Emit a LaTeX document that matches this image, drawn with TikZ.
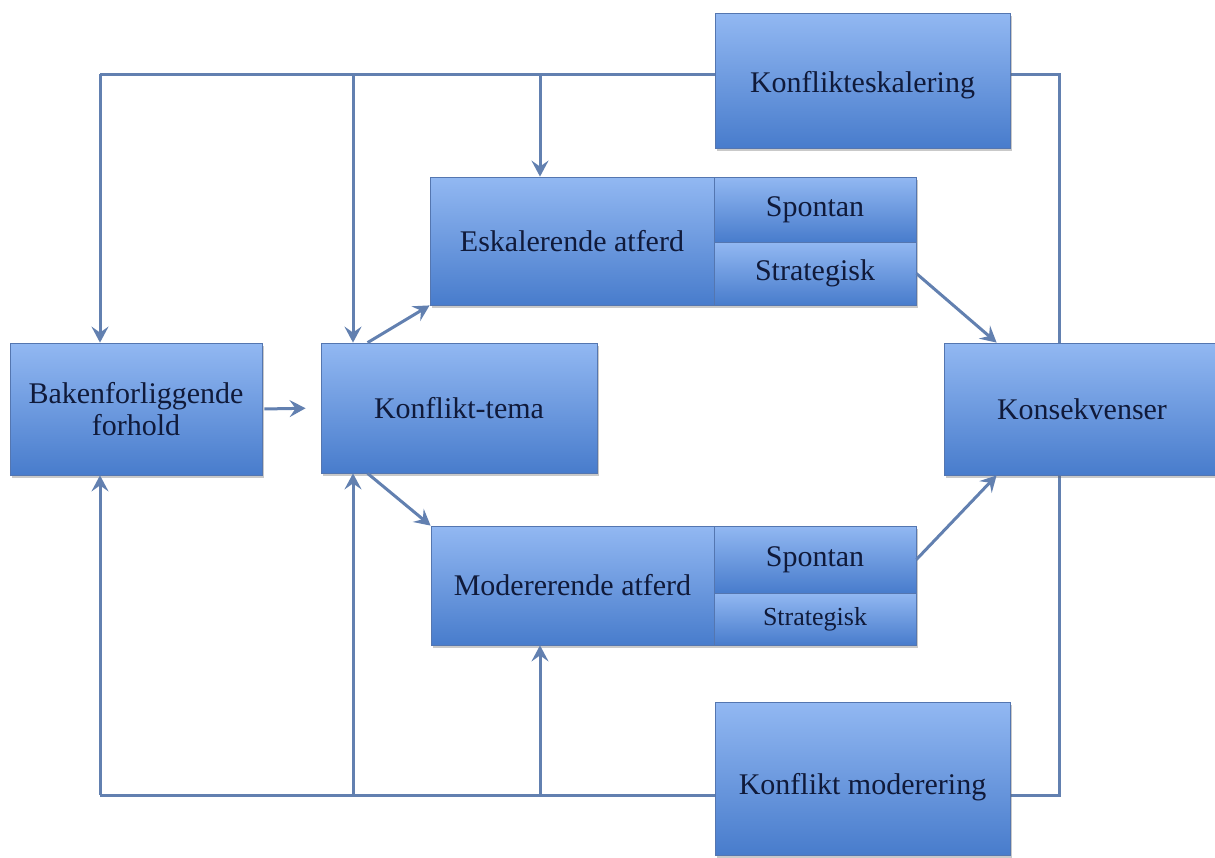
\documentclass[tikz,border=0pt]{standalone}
\usepackage{fontspec}
\setmainfont{Liberation Serif}
\usetikzlibrary{arrows.meta,shadows}

\definecolor{boxtop}{RGB}{146,184,242}
\definecolor{boxbot}{RGB}{72,124,204}
\definecolor{boxline}{RGB}{84,118,176}
\definecolor{wire}{RGB}{98,128,176}
\definecolor{ink}{RGB}{16,26,58}

\tikzset{
  blockbox/.style={rectangle, draw=boxline, line width=0.8pt,
    top color=boxtop, bottom color=boxbot, inner sep=0pt,
    text=ink, align=center,
    font=\fontsize{30}{32}\selectfont,
    drop shadow={shadow xshift=2pt, shadow yshift=-3pt, opacity=0.35, fill=black!60}},
  smallbox/.style={blockbox, font=\fontsize{26}{28}\selectfont},
  wireline/.style={draw=wire, line width=3pt},
  wirearrow/.style={wireline, -{Stealth[length=16pt,width=17pt,inset=6pt]}}
}
% lower a label inside its box without changing the box's declared size
\newcommand{\lowered}[2]{\raisebox{-#1}[\height][\depth]{#2}}

\begin{document}
\begin{tikzpicture}[x=1pt,y=-1pt]
\useasboundingbox (0,0) rectangle (1215,857);
\fill[white] (0,0) rectangle (1215,857);

% bus coordinates
\coordinate (tl) at (100,74);
\coordinate (t2) at (353,74);
\coordinate (t3) at (540,74);
\coordinate (tr) at (1059,74);
\coordinate (bl) at (100,795);
\coordinate (b2) at (353,795);
\coordinate (b3) at (540,795);
\coordinate (br) at (1059,795);

% connectors behind the boxes
\draw[wireline] (862,74) -- (tl);
\draw[wireline] (862,74) -- (tr) -- (1059,409);
\draw[wireline] (862,795) -- (bl);
\draw[wireline] (862,795) -- (br) -- (1059,409);

% boxes
\node[blockbox, minimum width=295pt, minimum height=135pt] (esk) at (862.5,80.5) {\lowered{5pt}{Konflikteskalering}};
\node[blockbox, minimum width=252pt, minimum height=132pt] (bak) at (136,409) {Bakenforliggende\\forhold};
\node[blockbox, minimum width=276pt, minimum height=130pt] (tema) at (459,408) {Konflikt-tema};
\node[blockbox, minimum width=276pt, minimum height=132pt] (kons) at (1082,409) {Konsekvenser};

\node[blockbox, minimum width=284pt, minimum height=128pt] (eskA) at (572,241) {Eskalerende atferd};
\node[blockbox, minimum width=202pt, minimum height=65pt] (eskSp) at (815,209.5) {Spontan};
\node[blockbox, minimum width=202pt, minimum height=63pt] (eskSt) at (815,273.5) {Strategisk};

\node[blockbox, minimum width=283pt, minimum height=119pt] (modA) at (572.5,585.5) {Modererende atferd};
\node[blockbox, minimum width=202pt, minimum height=67pt] (modSp) at (815,559.5) {Spontan};
\node[smallbox, minimum width=202pt, minimum height=52pt] (modSt) at (815,619) {Strategisk};

\node[blockbox, minimum width=295pt, minimum height=153pt] (mod) at (862.5,778.5) {\lowered{9pt}{Konflikt moderering}};

% feedback arrows from the upper bus
\draw[wirearrow] (tl) -- (tl |- bak.north);
\draw[wirearrow] (t2) -- (t2 |- tema.north);
\draw[wirearrow] (t3) -- (t3 |- eskA.north);

% feedback arrows from the lower bus
\draw[wirearrow] (bl) -- (bl |- bak.south);
\draw[wirearrow] (b2) -- (b2 |- tema.south);
\draw[wirearrow] (b3) -- (b3 |- modA.south);

% main flow
\draw[wirearrow, shorten <=2pt, shorten >=15pt] (bak.east) -- (tema.west);
\draw[wirearrow] ([xshift=47pt]tema.north west) -- (eskA.south west);
\draw[wirearrow] ([xshift=47pt]tema.south west) -- (modA.north west);
\draw[wirearrow] (eskSt.east) -- ([xshift=53pt]kons.north west);
\draw[wirearrow] (modSp.east) -- ([xshift=53pt]kons.south west);
\end{tikzpicture}
\end{document}
